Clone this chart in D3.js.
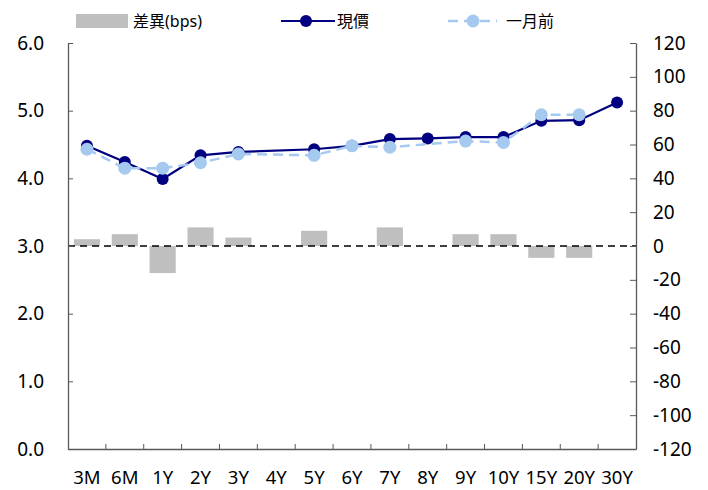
<!DOCTYPE html>
<html>
<head>
<meta charset="utf-8">
<script src="https://cdn.jsdelivr.net/npm/d3@7"></script>
<style>
  body { margin: 0; background: #fff; }
  text { font-family: "Noto Sans", "Noto Sans CJK TC", sans-serif; fill: #000; }
</style>
</head>
<body>
<div id="chart"></div>
<script>
// Tenors
const tenors = ["3M", "6M", "1Y", "2Y", "3Y", "4Y", "5Y", "6Y", "7Y", "8Y", "9Y", "10Y", "15Y", "20Y", "30Y"];
// Current yield (%)
const current = [4.48, 4.24, 3.99, 4.34, 4.39, null, 4.43, 4.48, 4.58, 4.59, 4.61, 4.61, 4.85, 4.86, 5.12];
// One month ago (%)
const monthAgo = [4.43, 4.15, 4.15, 4.23, 4.36, null, 4.34, 4.48, 4.46, null, 4.55, 4.53, 4.94, 4.94, null];
// Difference (bps)
const diffBps = [4, 7, -16, 11, 5, null, 9, 0, 11, null, 7, 7, -7, -7, null];

const leftTicks = [0, 1, 2, 3, 4, 5, 6];
const rightTicks = [-120, -100, -80, -60, -40, -20, 0, 20, 40, 60, 80, 100, 120];

const W = 708, H = 490;
const margin = {top: 43, right: 72, bottom: 41, left: 68};
const width = W - margin.left - margin.right;
const height = H - margin.top - margin.bottom;

const svgRoot = d3.select("#chart").append("svg")
  .attr("width", W).attr("height", H);
const svg = svgRoot.append("g")
  .attr("transform", `translate(${margin.left},${margin.top})`);

const x = d3.scaleBand().domain(tenors).range([0, width]);
const yL = d3.scaleLinear().domain([0, 6]).range([height, 0]);
const yR = d3.scaleLinear().domain([-120, 120]).range([height, 0]);

const navy = "#000080", light = "#a5c9ef", grey = "#bfbfbf", axisCol = "#595959";

// bars (difference)
const barW = x.bandwidth() * 0.69;
svg.selectAll(".bar")
  .data(tenors.map((t, i) => ({t, v: diffBps[i]})).filter(d => d.v !== null && d.v !== 0))
  .enter().append("rect")
  .attr("x", d => x(d.t) + (x.bandwidth() - barW) / 2)
  .attr("y", d => yR(Math.max(0, d.v)))
  .attr("width", barW)
  .attr("height", d => Math.abs(yR(d.v) - yR(0)))
  .attr("fill", grey);

// zero line
svg.append("line")
  .attr("x1", 0).attr("x2", width)
  .attr("y1", yR(0)).attr("y2", yR(0))
  .attr("stroke", "#000").attr("stroke-width", 1.5)
  .attr("stroke-dasharray", "7,5");

// axes
const leftAxis = svg.append("g")
  .call(d3.axisLeft(yL).tickValues(leftTicks).tickFormat(d3.format(".1f")).tickSizeInner(-5).tickSizeOuter(0).tickPadding(24));
const rightAxis = svg.append("g")
  .attr("transform", `translate(${width},0)`)
  .call(d3.axisRight(yR).tickValues(rightTicks).tickFormat(d => d < 0 ? "-" + Math.abs(d) : d).tickSizeInner(-6).tickSizeOuter(0).tickPadding(17));
const xAxis = svg.append("g")
  .attr("transform", `translate(0,${height})`)
  .call(d3.axisBottom(x).tickSize(0).tickPadding(22));

// x ticks at band boundaries (inward)
svg.append("g").selectAll("line")
  .data(tenors.slice(1))
  .enter().append("line")
  .attr("x1", d => x(d)).attr("x2", d => x(d))
  .attr("y1", height).attr("y2", height - 5)
  .attr("stroke", axisCol);

[leftAxis, rightAxis, xAxis].forEach(a => {
  a.select(".domain").attr("stroke", axisCol).attr("stroke-width", 1.3);
  a.selectAll(".tick line").attr("stroke", axisCol);
  a.selectAll("text").style("font-size", "19px").attr("fill", "#000");
});
xAxis.selectAll("text").style("font-size", "18.5px");
rightAxis.selectAll("text").attr("text-anchor", "start");

// lines
const lineGen = d3.line()
  .defined(d => d.v !== null)
  .x(d => x(d.t) + x.bandwidth() / 2)
  .y(d => yL(d.v));

const curData = tenors.map((t, i) => ({t, v: current[i]}));
const agoData = tenors.map((t, i) => ({t, v: monthAgo[i]}));

svg.append("path").datum(curData.filter(d => d.v !== null))
  .attr("fill", "none").attr("stroke", navy).attr("stroke-width", 2.2)
  .attr("d", lineGen);
svg.selectAll(".cur").data(curData.filter(d => d.v !== null))
  .enter().append("circle")
  .attr("cx", d => x(d.t) + x.bandwidth() / 2)
  .attr("cy", d => yL(d.v))
  .attr("r", 6).attr("fill", navy);

svg.append("path").datum(agoData.filter(d => d.v !== null))
  .attr("fill", "none").attr("stroke", light).attr("stroke-width", 2.5)
  .attr("stroke-dasharray", "10,6")
  .attr("d", lineGen);
svg.selectAll(".ago").data(agoData.filter(d => d.v !== null))
  .enter().append("circle")
  .attr("cx", d => x(d.t) + x.bandwidth() / 2)
  .attr("cy", d => yL(d.v))
  .attr("r", 6.5).attr("fill", light);

// legend
const lg = svgRoot.append("g");
lg.append("rect").attr("x", 76).attr("y", 14).attr("width", 52).attr("height", 14).attr("fill", grey);
lg.append("text").attr("x", 133).attr("y", 27).style("font-size", "16px").text("差異(bps)");

lg.append("line").attr("x1", 281).attr("x2", 335).attr("y1", 21).attr("y2", 21)
  .attr("stroke", navy).attr("stroke-width", 2.2);
lg.append("circle").attr("cx", 306).attr("cy", 21).attr("r", 6).attr("fill", navy);
lg.append("text").attr("x", 337).attr("y", 27).style("font-size", "16px").text("現價");

lg.append("line").attr("x1", 448).attr("x2", 497).attr("y1", 21).attr("y2", 21)
  .attr("stroke", light).attr("stroke-width", 2.5).attr("stroke-dasharray", "10,6");
lg.append("circle").attr("cx", 473).attr("cy", 21).attr("r", 6.5).attr("fill", light);
lg.append("text").attr("x", 506).attr("y", 27).style("font-size", "16px").text("一月前");
</script>
</body>
</html>
